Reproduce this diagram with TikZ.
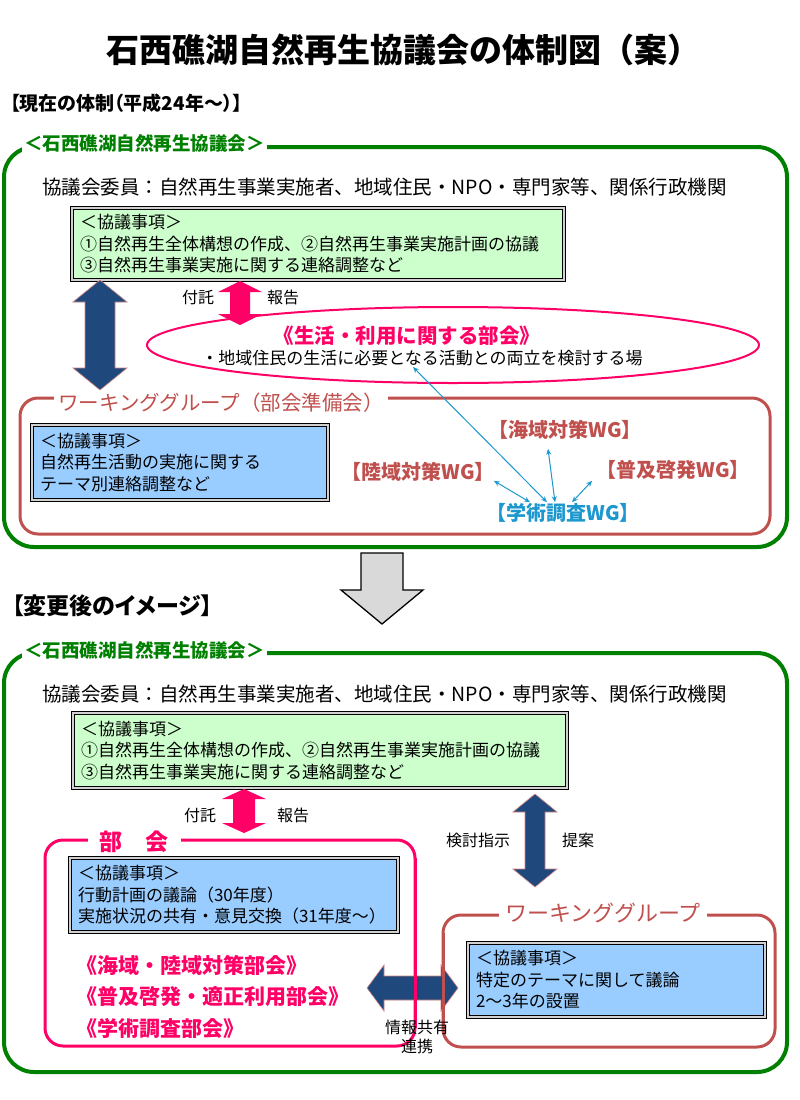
\documentclass[tikz,border=0pt]{standalone}
\usepackage{fontspec}
\setmainfont{Noto Sans CJK JP}
\newfontfamily\headfont[RawFeature=+palt]{Noto Sans CJK JP}
\usetikzlibrary{arrows.meta,calc,shapes.geometric}
\definecolor{panelgreen}{RGB}{0,128,0}
\definecolor{bukaipink}{RGB}{255,0,102}
\definecolor{wgred}{RGB}{192,80,77}
\definecolor{navy}{RGB}{31,73,125}
\definecolor{wgblue}{RGB}{28,152,206}
\definecolor{agreen}{RGB}{204,255,204}
\definecolor{ablue}{RGB}{153,204,255}
\definecolor{arrowgray}{RGB}{217,217,217}
\tikzset{
  section/.style={anchor=west, font=\headfont\fontsize{19}{22}\selectfont\bfseries, inner sep=0pt},
  panel/.style={draw=panelgreen, line width=4pt, rounded corners=30pt, anchor=north west,
    outer sep=0pt, inner sep=0pt},
  paneltitle/.style={anchor=west, fill=white, text=panelgreen, inner xsep=2pt, inner ysep=1pt,
    font=\headfont\fontsize{18.5}{22}\selectfont\bfseries},
  members/.style={anchor=west, font=\fontsize{19.5}{22}\selectfont, inner sep=0pt},
  agenda/.style={draw=black, line width=0.9pt, double=black!18, double distance=1.3pt,
    anchor=north west, align=left, inner xsep=8pt, inner ysep=3pt, outer sep=0pt,
    font=\fontsize{17}{21.5}\selectfont},
  greenbox/.style={agenda, fill=agreen},
  bluebox/.style={agenda, fill=ablue},
  bukaiframe/.style={draw=bukaipink, line width=3pt, rounded corners=18pt, anchor=north west,
    outer sep=0pt, inner sep=0pt},
  wgframe/.style={draw=wgred, line width=3pt, rounded corners=18pt, anchor=north west,
    outer sep=0pt, inner sep=0pt},
  wgtitle/.style={fill=white, text=wgred, inner xsep=4pt, inner ysep=1pt,
    font=\fontsize{20.5}{24}\selectfont},
  wglabel/.style={text=wgred, inner sep=1pt, font=\fontsize{20}{24}\selectfont\bfseries},
  bukaititle/.style={fill=white, text=bukaipink, inner xsep=12pt, inner ysep=1pt,
    font=\fontsize{23}{26}\selectfont\bfseries},
  bukailist/.style={anchor=west, text=bukaipink, inner sep=0pt, font=\fontsize{21}{24}\selectfont\bfseries},
  seikatsu/.style={ellipse, draw=bukaipink, line width=2pt, inner sep=0pt},
  note/.style={font=\fontsize{16}{19}\selectfont, inner sep=1pt},
  navyarrow/.style={fill=navy, draw=wgred!70, line width=0.6pt},
  pinkarrow/.style={fill=bukaipink, draw=none},
  grayarrow/.style={fill=arrowgray, draw=black, line width=1.3pt},
  wglink/.style={{Stealth[length=6pt,width=5pt]}-{Stealth[length=6pt,width=5pt]},
    draw=wgblue, line width=1pt},
}
% fat double arrows: [style]{end 1}{end 2}{head half width}{head length}{shaft half width}
\newcommand\vfat[6][]{%
  \filldraw[#1] (#2) -- ++(#4,#5) -- ++(#6-#4,0) -- ($(#3)+(#6,-#5)$) -- ++(#4-#6,0) -- (#3)
    -- ++(-#4,-#5) -- ++(#4-#6,0) -- ($(#2)+(-#6,#5)$) -- ++(#6-#4,0) -- cycle;}
\newcommand\hfat[6][]{%
  \filldraw[#1] (#2) -- ++(#5,-#4) -- ++(0,#4-#6) -- ($(#3)+(-#5,-#6)$) -- ++(0,#6-#4) -- (#3)
    -- ++(-#5,#4) -- ++(0,#6-#4) -- ($(#2)+(#5,#6)$) -- ++(0,#4-#6) -- cycle;}
\begin{document}
\begin{tikzpicture}[x=1pt, y=-1pt]
  \fill[white] (0,0) rectangle (800,1100);
  \useasboundingbox (0,0) rectangle (800,1100);

  % title
  \node[font=\fontsize{33}{36}\selectfont\bfseries] (title) at (403,50) {石西礁湖自然再生協議会の体制図（案）};
  \node[section] (now) at (10,103) {【現在の体制（平成24年～）】};

  % current structure
  \node[panel, minimum width=783pt, minimum height=400pt] (cur) at (4,147) {};
  \node[paneltitle] (curt) at (22,143) {＜石西礁湖自然再生協議会＞};
  \node[members] (curm) at (42,187) {協議会委員：自然再生事業実施者、地域住民・NPO・専門家等、関係行政機関};
  \node[greenbox, text width=476pt, minimum height=72pt] (agenda1) at (72,208)
    {＜協議事項＞\\①自然再生全体構想の作成、②自然再生事業実施計画の協議\\③自然再生事業実施に関する連絡調整など};
  \node[seikatsu, minimum width=612pt, minimum height=76pt] (seikatsu) at (453,345) {};
  \node[text=bukaipink, font=\fontsize{20.5}{24}\selectfont\bfseries, inner sep=1pt] (seikatsut) at (407,336) {《生活・利用に関する部会》};
  \node[font=\fontsize{17}{20}\selectfont, inner sep=1pt] (seikatsus) at (422,358) {・地域住民の生活に必要となる活動との両立を検討する場};
  \node[wgframe, minimum width=750pt, minimum height=136pt] (wg1) at (20,398) {};
  \node[wgtitle, anchor=west] (wg1t) at (54,403) {ワーキンググループ（部会準備会）};
  \node[bluebox, text width=280pt, minimum height=75pt] (agenda2) at (32,425)
    {＜協議事項＞\\自然再生活動の実施に関する\\テーマ別連絡調整など};
  \node[wglabel] (kaiiki) at (565,430) {【海域対策WG】};
  \node[wglabel] (rikuiki) at (418,472) {【陸域対策WG】};
  \node[wglabel] (fukyu) at (673,470) {【普及啓発WG】};
  \node[wglabel, text=wgblue] (gakujutsu) at (563,513) {【学術調査WG】};
  \node[note] (futaku1) at (198,297) {付託};
  \node[note] (hokoku1) at (283,297) {報告};

  \coordinate (n1t) at ($(agenda1.south west)+(28,0)$);
  \coordinate (n1b) at ($(wg1.north west)+(80,-8)$);
  \vfat[navyarrow]{n1t}{n1b}{27}{22}{15}
  \coordinate (p1t) at ($(agenda1.south west)+(168,1)$);
  \coordinate (p1b) at ($(seikatsu.center)+(-213,-20)$);
  \vfat[pinkarrow]{p1t}{p1b}{22}{11}{10}
  \draw[wglink] ($(rikuiki.south east)+(-2,-2)$) -- ($(gakujutsu.north)+(-33,0)$);
  \draw[wglink] ($(kaiiki.south)+(-17,8)$) -- ($(gakujutsu.north)+(-8,0)$);
  \draw[wglink] ($(fukyu.south west)+(-3,0)$) -- ($(gakujutsu.north)+(9,0)$);
  \draw[wglink] ($(gakujutsu.north)+(-16,0)$) -- ($(seikatsu.center)+(-40,22)$);

  % transition
  \coordinate (g1) at ($(cur.south)+(-13.5,6)$);
  \coordinate (g2) at ($(cur.south)+(-13.5,77)$);
  \filldraw[grayarrow] ($(g1)+(-21,0)$) -- ++(42,0) -- ++(0,37) -- ++(20,0) -- (g2)
    -- ++(-41,-34) -- ++(20,0) -- cycle;

  % new structure
  \node[section, font=\headfont\fontsize{23}{26}\selectfont\bfseries] (after) at (12,606) {【変更後のイメージ】};
  \node[panel, minimum width=783pt, minimum height=419pt] (new) at (4,653) {};
  \node[paneltitle] (newt) at (22,650) {＜石西礁湖自然再生協議会＞};
  \node[members] (newm) at (42,694) {協議会委員：自然再生事業実施者、地域住民・NPO・専門家等、関係行政機関};
  \node[greenbox, text width=478pt, minimum height=75pt] (agenda3) at (73,713)
    {＜協議事項＞\\①自然再生全体構想の作成、②自然再生事業実施計画の協議\\③自然再生事業実施に関する連絡調整など};
  \node[bukaiframe, minimum width=370pt, minimum height=206pt] (bukai) at (45,840) {};
  \node[bukaititle] (bukait) at (134,842) {部　会};
  \node[bluebox, text width=312pt, minimum height=74pt] (agenda4) at (70,858)
    {＜協議事項＞\\行動計画の議論（30年度）\\実施状況の共有・意見交換（31年度～）};
  \node[bukailist] (kairiku) at (76,965) {《海域・陸域対策部会》};
  \node[bukailist] (fukyutekisei) at (76,997) {《普及啓発・適正利用部会》};
  \node[bukailist] (gakujutsub) at (76,1028) {《学術調査部会》};
  \node[wgframe, minimum width=332pt, minimum height=132pt] (wg2) at (443,915) {};
  \node[wgtitle, font=\fontsize{22}{25}\selectfont, inner xsep=6pt] (wg2t) at (603,913) {ワーキンググループ};
  \node[bluebox, text width=281pt, minimum height=74pt] (agenda5) at (468,943)
    {＜協議事項＞\\特定のテーマに関して議論\\2～3年の設置};
  \node[note] (futaku2) at (200,815) {付託};
  \node[note] (hokoku2) at (293,815) {報告};
  \node[note] (kento) at (478,840) {検討指示};
  \node[note] (teian) at (578,840) {提案};

  \coordinate (p2t) at ($(agenda3.south west)+(171,1)$);
  \coordinate (p2b) at ($(bukai.north west)+(199,-7)$);
  \vfat[pinkarrow]{p2t}{p2b}{22}{10}{11}
  \coordinate (n2t) at ($(agenda3.south east)+(-32,6)$);
  \coordinate (n2b) at ($(wg2.north west)+(92,-28)$);
  \vfat[navyarrow]{n2t}{n2b}{22}{18}{10}
  \coordinate (n3l) at ($(bukai.east)+(-48,45)$);
  \coordinate (n3r) at ($(wg2.west)+(15,7)$);
  \hfat[navyarrow]{n3l}{n3r}{23}{17}{12}
  \draw[bukaipink, line width=3pt] ($(bukai.north east)+(0,18)$) -- ($(bukai.south east)+(0,-18)$);
  \draw[wgred, line width=3pt] ($(wg2.north west)+(0,18)$) -- ($(wg2.south west)+(0,-18)$);
  \node[note, align=center, font=\fontsize{16}{19}\selectfont] (joho) at (417,1037) {情報共有\\連携};
\end{tikzpicture}
\end{document}
